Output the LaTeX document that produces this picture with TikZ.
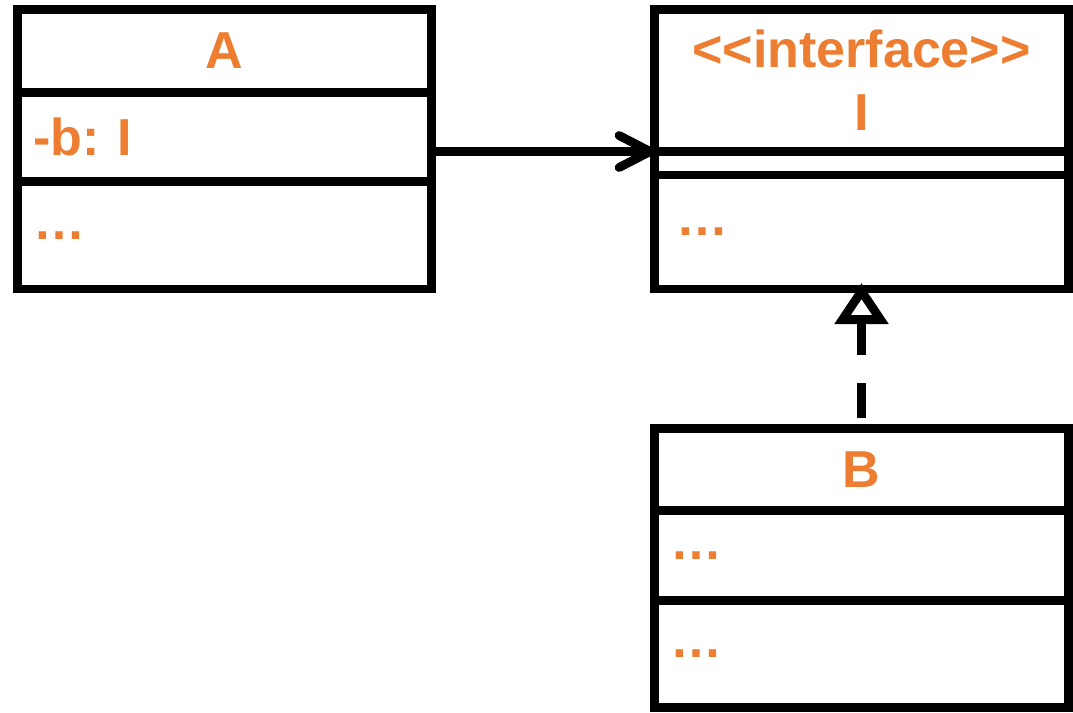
\documentclass[tikz,border=0pt]{standalone}
\usepackage{fontspec}
\usepackage{tikz}
\usetikzlibrary{arrows.meta,positioning}
\newfontfamily\umlfont{Liberation Sans}
\definecolor{umlorange}{RGB}{237,125,49}

\begin{document}
\begin{tikzpicture}[
	compart/.style={draw=black,line width=0.088cm,rectangle,outer sep=0pt,inner ysep=0pt,
		minimum width=4.14cm,text=umlorange,font=\umlfont\bfseries\fontsize{14.8}{17.9}\selectfont\frenchspacing},
	umlname/.style={compart,align=center},
	umlattr/.style={compart,inner xsep=0.16cm,text width=3.82cm,align=left},
	assoc/.style={line width=0.088cm,line cap=round,-{Straight Barb[length=3.1mm,width=3.2mm,round]}},
	realize/.style={line width=0.088cm,dash pattern=on 0.35cm off 0.28cm,dash phase=0.525cm,shorten >=-0.6mm,
		-{Triangle[open,length=4.1mm,width=5.2mm,fill=white]}}]
	\useasboundingbox (0,0) rectangle (10.73,7.12);
	\node[umlname,minimum height=0.83cm,anchor=north west] (Aname) at (0.175,7.025) {A};
	\node[umlattr,minimum height=0.89cm,below=0pt of Aname] (Aattr) {-b: I};
	\node[umlattr,minimum height=1.075cm,below=0pt of Aattr] (Aops) {…};
	\node[umlname,minimum height=1.42cm,anchor=north west] (Iname) at (6.545,7.025) {<<interface>>\\I};
	\node[umlattr,minimum height=0.235cm,below=0pt of Iname] (Iattr) {};
	\node[umlattr,minimum height=1.14cm,below=0pt of Iattr] (Iops) {\hspace*{0.06cm}…};
	\node[umlname,minimum height=0.82cm,anchor=north west] (Bname) at (6.545,2.835) {B};
	\node[umlattr,minimum height=0.90cm,below=0pt of Bname] (Battr) {…};
	\node[umlattr,minimum height=1.07cm,below=0pt of Battr] (Bops) {…};
	\draw[assoc] (Aattr.east |- Iname.south) -- (Iname.south west);
	\draw[realize] (Bname.north) -- (Iops.south);
\end{tikzpicture}
\end{document}
